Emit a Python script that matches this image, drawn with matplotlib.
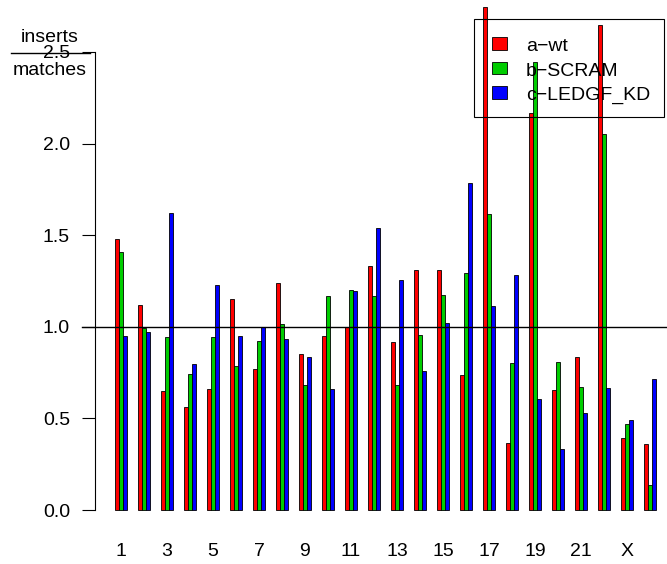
import matplotlib
matplotlib.use("Agg")
import matplotlib.pyplot as plt
import matplotlib.transforms as mtransforms
from matplotlib.patches import Rectangle
from matplotlib.lines import Line2D
import numpy as np

plt.rcParams['font.family'] = ['Liberation Sans', 'DejaVu Sans']

chromosomes = [str(i) for i in range(1, 23)] + ["X", "Y"]
shown_labels = ["1", "3", "5", "7", "9", "11", "13", "15", "17", "19", "21", "X"]
series_names = ["a\u2212wt", "b\u2212SCRAM", "c\u2212LEDGF_KD"]
series_colors = ["#FF0000", "#00CD00", "#0000FF"]

wt = [1.478, 1.121, 0.650, 0.564, 0.659, 1.153, 0.770, 1.241, 0.853, 0.948, 1.001, 1.332,
      0.919, 1.312, 1.308, 0.735, 2.747, 0.366, 2.165, 0.657, 0.835, 2.646, 0.395, 0.358]
scram = [1.406, 0.993, 0.944, 0.742, 0.946, 0.786, 0.921, 1.013, 0.682, 1.170, 1.199, 1.166,
         0.682, 0.953, 1.175, 1.295, 1.614, 0.804, 2.445, 0.808, 0.673, 2.051, 0.469, 0.138]
ledgf = [0.948, 0.973, 1.623, 0.795, 1.226, 0.950, 1.001, 0.935, 0.837, 0.660, 1.197, 1.541,
         1.254, 0.757, 1.023, 1.785, 1.114, 1.285, 0.608, 0.335, 0.528, 0.668, 0.490, 0.717]

W, H = 667, 564
fig = plt.figure(figsize=(W / 100, H / 100), dpi=100)

def fx(px):
    return px / W

def fy(py):
    return 1 - py / H

ax = fig.add_axes([fx(95), fy(529), fx(664) - fx(95), fy(19) - fy(529)])
ax.set_xlim(-0.1304, 24.609)
ax.set_ylim(-0.1037, 2.680)

x = np.arange(1, len(chromosomes) + 1)
bw = 1 / 6
for k, (vals, col) in enumerate(zip([wt, scram, ledgf], series_colors)):
    ax.bar(x + (k - 1) * bw, vals, width=bw, color=col, edgecolor="black",
           linewidth=0.6, clip_on=False, zorder=2)

for s in ["top", "right", "bottom"]:
    ax.spines[s].set_visible(False)
ax.spines["left"].set_bounds(0, 2.5)
ax.spines["left"].set_linewidth(0.8)
ax.set_yticks([0.0, 0.5, 1.0, 1.5, 2.0, 2.5])
ax.set_yticklabels(["0.0", "0.5", "1.0", "1.5", "2.0", "2.5"])
ax.tick_params(axis="y", length=9.4, width=0.8, pad=8.6, labelsize=14)
ax.set_xticks([])

# x labels
tr_x = mtransforms.blended_transform_factory(ax.transData, fig.transFigure)
for i, lab in enumerate(chromosomes):
    if lab in shown_labels:
        ax.text(x[i], fy(552), lab, transform=tr_x, ha="center", va="center",
                fontsize=14, clip_on=False)

# reference line at 1.0
tr_h = mtransforms.blended_transform_factory(fig.transFigure, ax.transData)
ax.add_line(Line2D([fx(82), fx(667)], [1.0, 1.0], transform=tr_h, color="black",
                   linewidth=1.0, clip_on=False, zorder=3))

# y label as fraction
fig.text(fx(50), fy(42.3), "inserts", ha="center", va="baseline", fontsize=14)
fig.text(fx(50), fy(75), "matches", ha="center", va="baseline", fontsize=14)
fig.add_artist(Line2D([fx(11), fx(90)], [fy(53.3), fy(53.3)], color="black", linewidth=1.0))

# legend (transparent background, as in the reference)
fig.add_artist(Rectangle((fx(474), fy(117)), fx(664) - fx(474), fy(19) - fy(117),
                         facecolor="none", edgecolor="black", linewidth=0.8, zorder=5))
row_c = [43.5, 68.0, 92.5]
for name, col, rc in zip(series_names, series_colors, row_c):
    fig.add_artist(Rectangle((fx(492.3), fy(rc + 6.2)), fx(507.3) - fx(492.3), fy(rc - 6.2) - fy(rc + 6.2),
                             facecolor=col, edgecolor="black", linewidth=0.6, zorder=6))
    fig.text(fx(526), fy(rc + 7.8), name, ha="left", va="baseline", fontsize=14, zorder=6)

fig.savefig("out.png", dpi=100)
